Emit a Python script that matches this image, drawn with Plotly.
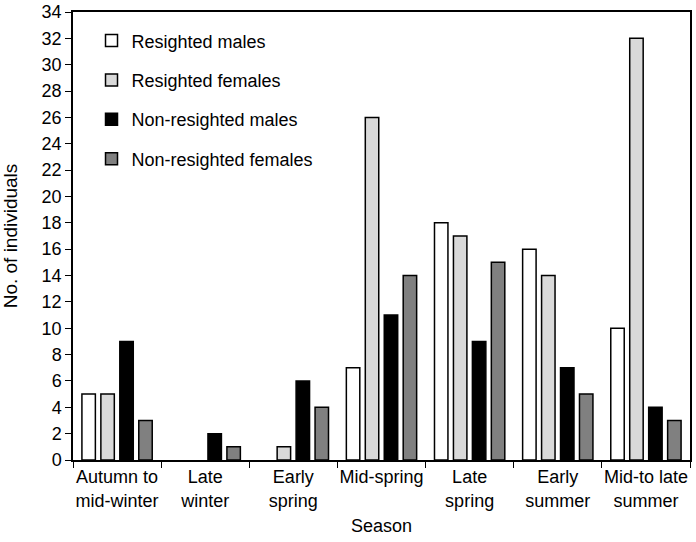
import plotly.graph_objects as go

categories = ["Autumn to<br>mid-winter", "Late<br>winter", "Early<br>spring", "Mid-spring",
              "Late<br>spring", "Early<br>summer", "Mid-to late<br>summer"]
resighted_males = [5, 0, 0, 7, 18, 16, 10]
resighted_females = [5, 0, 1, 26, 17, 14, 32]
nonresighted_males = [9, 2, 6, 11, 9, 7, 4]
nonresighted_females = [3, 1, 4, 14, 15, 5, 3]
series_names = ["Resighted males", "Resighted females", "Non-resighted males", "Non-resighted females"]
y_ticks = list(range(0, 35, 2))

series = [resighted_males, resighted_females, nonresighted_males, nonresighted_females]
colors = ["#ffffff", "#d9d9d9", "#000000", "#808080"]

FONT = "Liberation Sans, Arial, sans-serif"

fig = go.Figure()
for i, (name, vals, col) in enumerate(zip(series_names, series, colors)):
    fig.add_trace(go.Bar(
        x=categories, y=vals, name=name, legendgroup=f"g{i}",
        marker=dict(color=col,
                    line=dict(color="#000000", width=[1.5 if v else 0 for v in vals])),
    ))

fig.update_layout(
    width=696, height=542,
    margin=dict(l=73, r=6, t=12, b=82),
    paper_bgcolor="white", plot_bgcolor="white",
    barmode="group", bargap=0.14, bargroupgap=0.29,
    font=dict(family=FONT, size=18, color="#000000"),
    legend=dict(x=0.03, y=0.977, xanchor="left", yanchor="top",
                font=dict(size=18), tracegroupgap=13,
                bgcolor="rgba(0,0,0,0)"),
    xaxis=dict(
        automargin=False,
        showline=True, linecolor="#000000", linewidth=1.5, mirror=True,
        ticks="outside", tickson="boundaries", ticklen=6, tickcolor="#000000",
        tickfont=dict(size=18), tickangle=0,
        title=dict(text="Season", font=dict(size=18), standoff=10),
        showgrid=False,
    ),
    yaxis=dict(
        automargin=False,
        range=[0, 34], tickvals=y_ticks,
        showline=True, linecolor="#000000", linewidth=1.5, mirror=True,
        ticks="outside", ticklen=6, tickcolor="#000000",
        tickfont=dict(size=18),
        title=dict(text="No. of individuals", font=dict(size=19), standoff=19),
        showgrid=False, zeroline=False,
    ),
)

fig.write_html("out.html", config={"displayModeBar": False},
               post_script="document.body.style.margin='0';")
